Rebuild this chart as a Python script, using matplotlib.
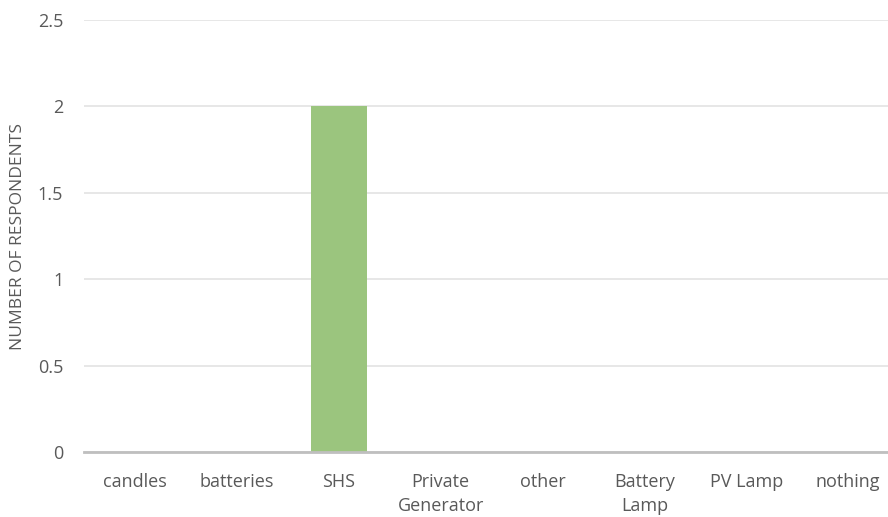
import matplotlib.pyplot as plt

categories = ['candles', 'batteries', 'SHS', 'Private\nGenerator', 'other',
              'Battery\nLamp', 'PV Lamp', 'nothing']
respondents = [0, 0, 2, 0, 0, 0, 0, 0]
yticks = [0, 0.5, 1, 1.5, 2, 2.5]

plt.rcParams['font.family'] = ['Open Sans', 'DejaVu Sans']
text_color = '#595959'

W, H = 888, 517
fig = plt.figure(figsize=(W / 100, H / 100), dpi=100)
left, right, top, bottom = 84, 899, 20, 452
ax = fig.add_axes([left / W, 1 - bottom / H, (right - left) / W, (bottom - top) / H])

x = range(len(categories))
ax.bar(x, respondents, width=0.55, color='#9BC57E', zorder=3)

ax.set_xlim(-0.5, len(categories) - 0.5)
ax.set_ylim(0, 2.5)
ax.set_yticks(yticks)
ax.set_yticklabels([f'{v:g}' for v in yticks])
ax.set_xticks(list(x))
ax.set_xticklabels(categories, linespacing=1.45)

ax.grid(axis='y', color='#E3E3E3', linewidth=1.2, zorder=0)
for side in ['top', 'right', 'left']:
    ax.spines[side].set_visible(False)
ax.spines['bottom'].set_color('#BFBFBF')
ax.spines['bottom'].set_linewidth(2)
ax.spines['bottom'].set_zorder(4)

ax.tick_params(axis='both', length=0, labelsize=13, colors=text_color)
ax.tick_params(axis='y', pad=15)
ax.tick_params(axis='x', pad=15)

ax.set_ylabel('NUMBER OF RESPONDENTS', fontsize=12.5, color=text_color)
ax.yaxis.set_label_coords(-(left - 26) / (right - left), 0.5)

fig.savefig('out.png', dpi=100)
